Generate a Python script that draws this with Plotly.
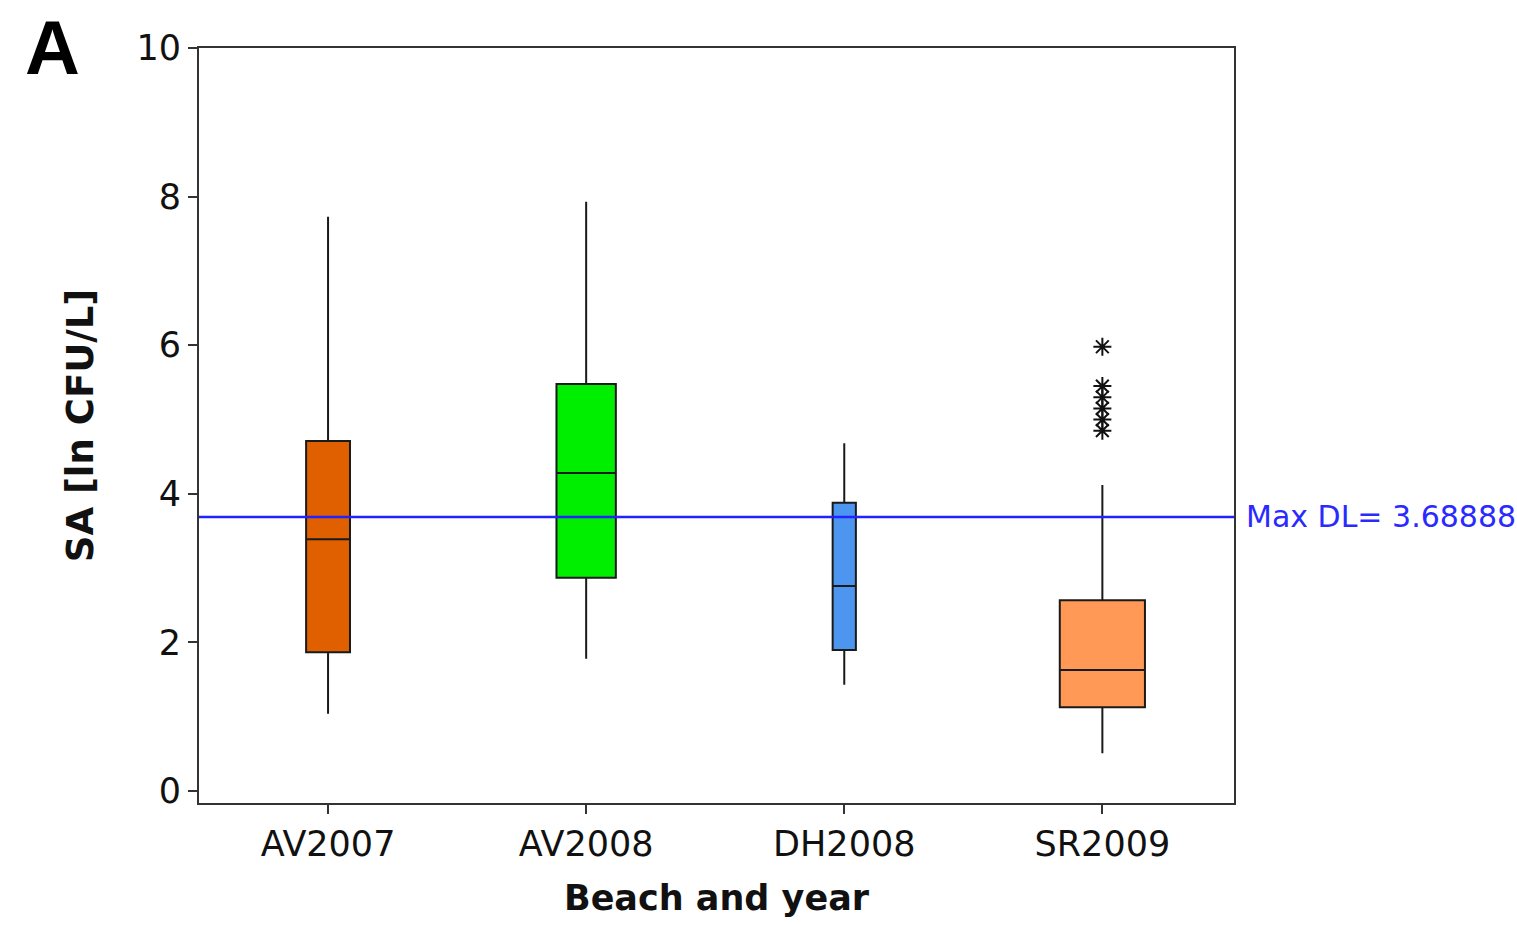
import plotly.graph_objects as go

categories = ["AV2007", "AV2008", "DH2008", "SR2009"]
q1 = [1.87, 2.87, 1.90, 1.13]
median = [3.39, 4.28, 2.76, 1.63]
q3 = [4.71, 5.48, 3.88, 2.57]
lower = [1.04, 1.78, 1.43, 0.51]
upper = [7.73, 7.93, 4.68, 4.12]
box_widths = [0.17, 0.23, 0.09, 0.33]
colors = ["#E06000", "#00EE00", "#4C96F0", "#FF9955"]
outlier_cat = ["SR2009"] * 6
outlier_vals = [5.98, 5.45, 5.30, 5.15, 5.00, 4.85]
max_dl = 3.68888

fig = go.Figure()
for i, c in enumerate(categories):
    fig.add_trace(go.Box(
        x=[c], q1=[q1[i]], median=[median[i]], q3=[q3[i]],
        lowerfence=[lower[i]], upperfence=[upper[i]],
        width=box_widths[i], fillcolor=colors[i],
        line=dict(color="#1a1a1a", width=2),
        whiskerwidth=0, boxpoints=False, showlegend=False,
    ))

fig.add_trace(go.Scatter(
    x=outlier_cat, y=outlier_vals, mode="markers",
    marker=dict(symbol="asterisk-open", size=15, color="#111",
                line=dict(color="#111", width=2)),
    showlegend=False,
))

fig.add_shape(type="line", xref="paper", x0=0, x1=1, yref="y",
              y0=max_dl, y1=max_dl, line=dict(color="#2222ff", width=2.5))

fig.add_annotation(text="Max DL= 3.68888", xref="paper", x=1.01, xanchor="left",
                   yref="y", y=max_dl, showarrow=False,
                   font=dict(family="DejaVu Sans", size=30, color="#2a2aff"))
fig.add_annotation(text="<b>A</b>", xref="paper", yref="paper",
                   x=-0.17, y=1.06, xanchor="left", yanchor="top", showarrow=False,
                   font=dict(family="Liberation Sans", size=76, color="#000"))

fig.update_layout(
    width=1517, height=925,
    margin=dict(l=199, r=283, t=48, b=122),
    paper_bgcolor="white", plot_bgcolor="white",
    font=dict(family="DejaVu Sans", size=35, color="#111"),
    boxmode="overlay",
    xaxis=dict(
        categoryorder="array", categoryarray=categories,
        range=[-0.5, 3.51],
        showline=True, linecolor="#333", linewidth=2, mirror=True,
        ticks="outside", ticklen=9, tickwidth=2, tickcolor="#333",
        showgrid=False, zeroline=False,
        title=dict(text="<b>Beach and year</b>", font=dict(size=35), standoff=22),
    ),
    yaxis=dict(
        range=[-0.16, 10], tickvals=[0, 2, 4, 6, 8, 10],
        showline=True, linecolor="#333", linewidth=2, mirror=True,
        ticks="outside", ticklen=9, tickwidth=2, tickcolor="#333",
        showgrid=False, zeroline=False,
        title=dict(text="<b>SA [ln CFU/L]</b>", font=dict(size=37), standoff=32),
    ),
)

fig.write_html("out.html")
